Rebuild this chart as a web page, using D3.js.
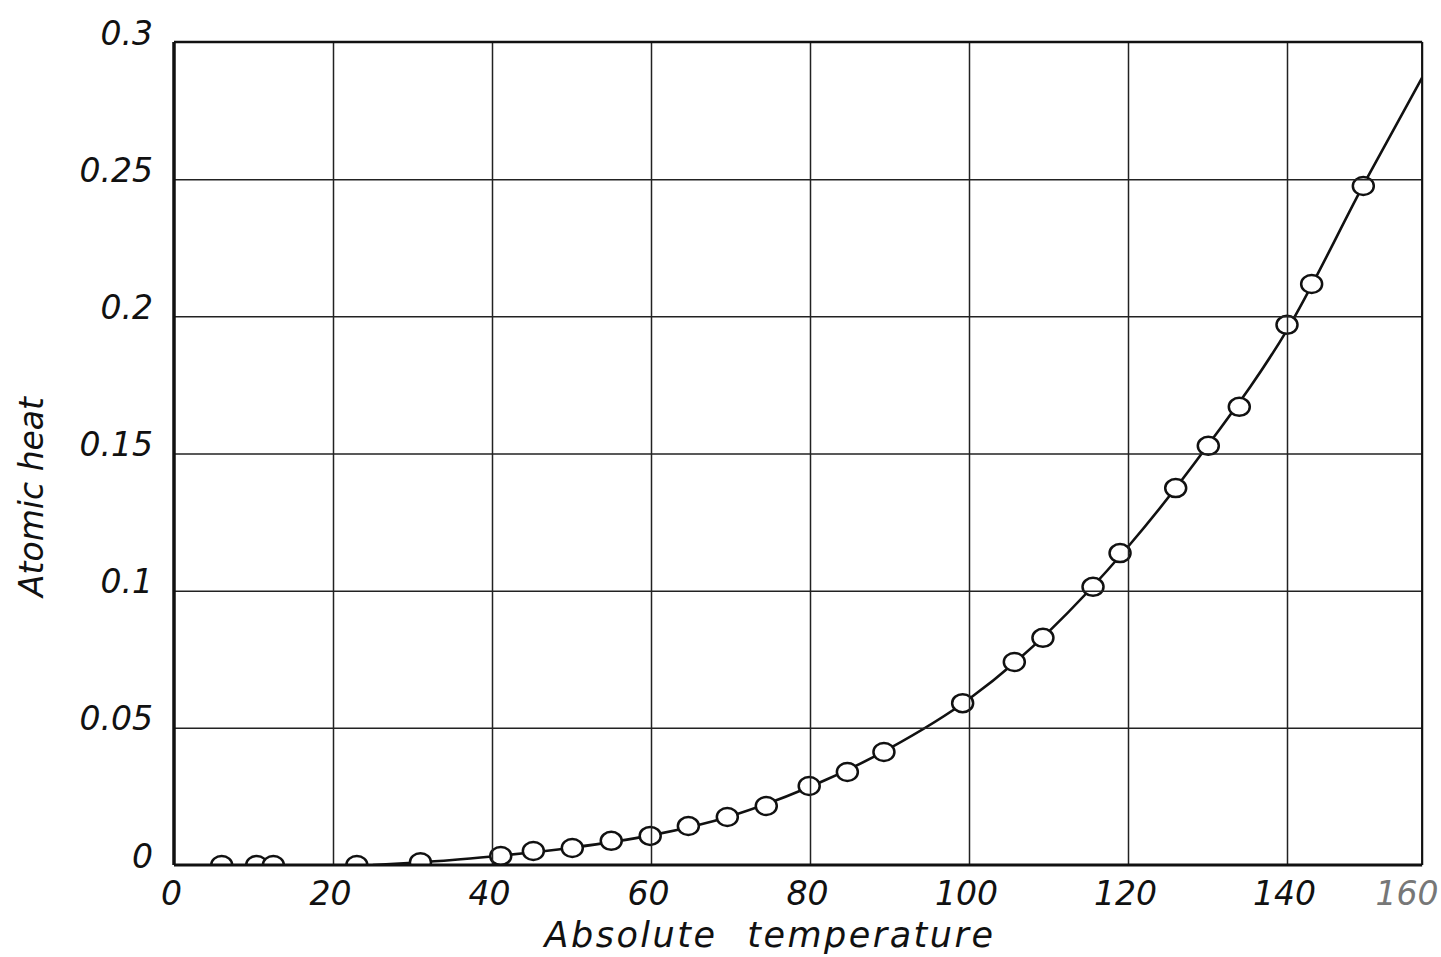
<!DOCTYPE html>
<html>
<head>
<meta charset="utf-8">
<script src="https://cdn.jsdelivr.net/npm/d3@7"></script>
<style>
  body { margin: 0; background: #fff; }
  svg { display: block; }
  .tick text { font-family: "DejaVu Sans", sans-serif; font-style: italic; font-size: 33px; fill: #111; }
  .title { font-family: "DejaVu Sans", sans-serif; font-style: italic; font-size: 35px; fill: #111; }
</style>
</head>
<body>
<svg width="1441" height="957"></svg>
<script>
// measured points (absolute temperature, atomic heat)
var temps = [6, 10.4, 12.5, 23, 31, 41.1, 45.2, 50.1, 55, 59.9, 64.7, 69.6, 74.5, 79.9, 84.7, 89.3,
  99.2, 105.7, 109.3, 115.6, 119, 126, 130.1, 134, 140, 143.1, 149.6];
var heats = [0, 0, 0, 0, 0.001, 0.0033, 0.0051, 0.0062, 0.0088, 0.0106, 0.0142, 0.0175, 0.0215, 0.0288, 0.0339, 0.0412,
  0.059, 0.074, 0.0828, 0.1014, 0.1137, 0.1374, 0.1528, 0.167, 0.1969, 0.2118, 0.2475];

// the drawn smooth curve
var curveT = [25, 30, 35, 40, 50, 60, 70, 80, 90, 100, 110, 120, 130, 140, 150, 157];
var curveH = [0, 0.0008, 0.0018, 0.0031, 0.0063, 0.0108, 0.0178, 0.0285, 0.0425, 0.0605, 0.085, 0.116, 0.1528, 0.195, 0.25, 0.287];

var xTicks = [0, 20, 40, 60, 80, 100, 120, 140, 160];
var yTicks = [0, 0.05, 0.1, 0.15, 0.2, 0.25, 0.3];
var yLabels = ['0', '0.05', '0.1', '0.15', '0.2', '0.25', '0.3'];

var svg = d3.select('svg');

var x = d3.scaleLinear().domain([0, 160]).range([174, 1446]);
var y = d3.scaleLinear().domain([0, 0.3]).range([865, 42]);
var xEdge = 157; // right border of the sheet sits here

var plotW = x(xEdge) - x(0);
var plotH = y(0) - y(0.3);

svg.append('clipPath').attr('id', 'plotClip')
  .append('rect')
  .attr('x', x(0)).attr('y', y(0.3))
  .attr('width', plotW).attr('height', plotH);

// curve
var line = d3.line()
  .x(function (d) { return x(d[0]); })
  .y(function (d) { return y(d[1]); })
  .curve(d3.curveMonotoneX);

svg.append('path')
  .datum(d3.zip(curveT, curveH))
  .attr('d', line)
  .attr('fill', 'none')
  .attr('stroke', '#111')
  .attr('stroke-width', 2.6)
  .attr('clip-path', 'url(#plotClip)');

// points
svg.append('g').attr('clip-path', 'url(#plotClip)')
  .selectAll('ellipse')
  .data(d3.zip(temps, heats))
  .enter().append('ellipse')
  .attr('cx', function (d) { return x(d[0]); })
  .attr('cy', function (d) { return y(d[1]); })
  .attr('rx', 10.5)
  .attr('ry', 9)
  .attr('fill', '#fff')
  .attr('stroke', '#111')
  .attr('stroke-width', 2.5);

// grid + labels through axes
var xAxis = svg.append('g')
  .attr('transform', `translate(0, ${y(0)})`)
  .call(d3.axisBottom(x).tickValues(xTicks).tickSize(-plotH).tickFormat(d3.format('d')));

xAxis.select('.domain').remove();
xAxis.selectAll('.tick line')
  .attr('stroke', '#222')
  .attr('stroke-width', function (d) { return (d === 0 || d === 160) ? 0 : 1.5; });
xAxis.selectAll('.tick text')
  .attr('y', 40).attr('dy', 0).attr('dx', -3);
// the last label runs off the sheet; pull it back to the edge
xAxis.selectAll('.tick text')
  .filter(function (d) { return d === 160; })
  .attr('text-anchor', 'end')
  .attr('dx', -8)
  .style('fill', '#777');

var yAxis = svg.append('g')
  .attr('transform', `translate(${x(0)}, 0)`)
  .call(d3.axisLeft(y).tickValues(yTicks).tickSize(-plotW)
    .tickFormat(function (d, i) { return yLabels[i]; }));

yAxis.select('.domain').remove();
yAxis.selectAll('.tick line')
  .attr('stroke', '#222')
  .attr('stroke-width', function (d) { return (d === 0 || d === 0.3) ? 0 : 1.5; });
yAxis.selectAll('.tick text')
  .attr('x', -21).attr('dy', 2);

// frame
var fx0 = x(0), fx1 = x(xEdge), fy0 = y(0.3), fy1 = y(0);
svg.append('line').attr('x1', fx0).attr('x2', fx0).attr('y1', fy0).attr('y2', fy1)
  .attr('stroke', '#111').attr('stroke-width', 3.5);
svg.append('line').attr('x1', fx0).attr('x2', fx1).attr('y1', fy0).attr('y2', fy0)
  .attr('stroke', '#111').attr('stroke-width', 2.5);
svg.append('line').attr('x1', fx0).attr('x2', fx1).attr('y1', fy1).attr('y2', fy1)
  .attr('stroke', '#111').attr('stroke-width', 3);
svg.append('line').attr('x1', fx1).attr('x2', fx1).attr('y1', fy0).attr('y2', fy1)
  .attr('stroke', '#111').attr('stroke-width', 2.2);

// titles
svg.append('text')
  .attr('class', 'title')
  .attr('x', 770)
  .attr('y', 947)
  .attr('text-anchor', 'middle')
  .style('word-spacing', '16px')
  .style('letter-spacing', '2.5px')
  .text('Absolute temperature');

svg.append('text')
  .attr('class', 'title')
  .attr('transform', 'translate(43, 497) rotate(-90)')
  .attr('text-anchor', 'middle')
  .style('font-size', '33px')
  .text('Atomic heat');
</script>
</body>
</html>
